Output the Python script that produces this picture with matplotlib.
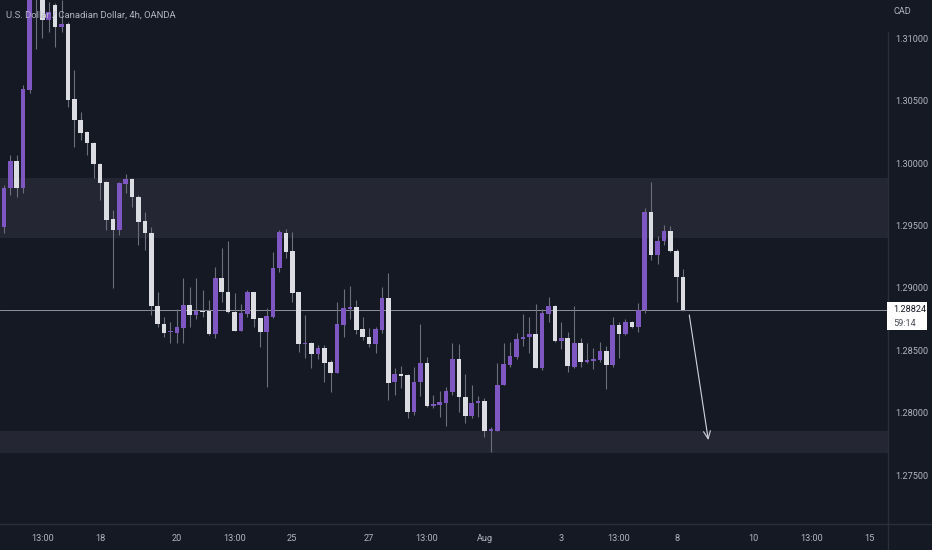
import matplotlib
matplotlib.use("Agg")
import matplotlib.pyplot as plt
from matplotlib import font_manager
from matplotlib.patches import Rectangle
from matplotlib.lines import Line2D

# ---------------- data (USD/CAD, 4h, OANDA) ----------------
opens = [1.29488, 1.29800, 1.30016, 1.29800, 1.30585, 1.31426, 1.31346, 1.31146, 1.31266, 1.31090,
         1.31114, 1.30513, 1.30345, 1.30249, 1.30161, 1.29992, 1.29848, 1.29552, 1.29464, 1.29832,
         1.29872, 1.29728, 1.29536, 1.29440, 1.28855, 1.28711, 1.28643, 1.28639, 1.28679, 1.28863,
         1.28783, 1.28815, 1.28815, 1.28631, 1.29079, 1.28967, 1.28807, 1.28655, 1.28791, 1.28967,
         1.28759, 1.28647, 1.28767, 1.29159, 1.29440, 1.29296, 1.28967, 1.28550, 1.28558, 1.28470,
         1.28518, 1.28406, 1.28318, 1.28703, 1.28831, 1.28847, 1.28671, 1.28607, 1.28550, 1.28663,
         1.28919, 1.28246, 1.28310, 1.28302, 1.28006, 1.28246, 1.28398, 1.28054, 1.28062, 1.28078,
         1.28166, 1.28430, 1.28126, 1.27974, 1.28078, 1.28094, 1.27854, 1.27854, 1.28222, 1.28382,
         1.28446, 1.28591, 1.28607, 1.28631, 1.28358, 1.28791, 1.28855, 1.28574, 1.28599, 1.28366,
         1.28558, 1.28406, 1.28414, 1.28422, 1.28494, 1.28382, 1.28703, 1.28631, 1.28727, 1.28687,
         1.28823, 1.29608, 1.29264, 1.29376, 1.29456, 1.29296, 1.29087]
highs = [1.29824, 1.30065, 1.30065, 1.30625, 1.31506, 1.31546, 1.31402, 1.31290, 1.31282, 1.31306,
         1.31130, 1.30745, 1.30409, 1.30255, 1.30169, 1.30000, 1.29852, 1.29624, 1.29848, 1.29912,
         1.29880, 1.29744, 1.29608, 1.29488, 1.28967, 1.28767, 1.28727, 1.28831, 1.29079, 1.29007,
         1.29079, 1.28983, 1.28903, 1.29167, 1.29320, 1.29376, 1.28959, 1.28871, 1.28983, 1.28970,
         1.28762, 1.28839, 1.29288, 1.29464, 1.29472, 1.29448, 1.28970, 1.28783, 1.28566, 1.28542,
         1.28542, 1.28422, 1.28887, 1.28991, 1.29015, 1.28903, 1.28767, 1.28679, 1.28687, 1.29007,
         1.29119, 1.28358, 1.28374, 1.28306, 1.28366, 1.28711, 1.28446, 1.28142, 1.28174, 1.28206,
         1.28558, 1.28550, 1.28310, 1.28222, 1.28134, 1.28118, 1.27886, 1.28398, 1.28558, 1.28566,
         1.28639, 1.28791, 1.28767, 1.28871, 1.28831, 1.28927, 1.28863, 1.28727, 1.28647, 1.28855,
         1.28599, 1.28558, 1.28518, 1.28566, 1.28534, 1.28767, 1.28727, 1.28751, 1.28730, 1.28879,
         1.29640, 1.29848, 1.29416, 1.29504, 1.29496, 1.29312, 1.29151]
lows = [1.29440, 1.29744, 1.29728, 1.29760, 1.30561, 1.30914, 1.31002, 1.31050, 1.30930, 1.31050,
        1.30449, 1.30129, 1.30185, 1.30065, 1.29880, 1.29704, 1.29464, 1.28999, 1.29424, 1.29760,
        1.29648, 1.29344, 1.29304, 1.28783, 1.28687, 1.28607, 1.28558, 1.28558, 1.28558, 1.28687,
        1.28751, 1.28767, 1.28623, 1.28599, 1.28887, 1.28799, 1.28650, 1.28650, 1.28767, 1.28687,
        1.28526, 1.28206, 1.28759, 1.29127, 1.29240, 1.28887, 1.28486, 1.28438, 1.28358, 1.28430,
        1.28246, 1.28166, 1.28314, 1.28607, 1.28751, 1.28631, 1.28582, 1.28526, 1.28478, 1.28639,
        1.28102, 1.28142, 1.28198, 1.27958, 1.27982, 1.28134, 1.28046, 1.28038, 1.27966, 1.27894,
        1.28142, 1.28006, 1.27918, 1.27958, 1.27966, 1.27806, 1.27685, 1.27850, 1.28218, 1.28366,
        1.28430, 1.28534, 1.28478, 1.28354, 1.28342, 1.28727, 1.28566, 1.28510, 1.28326, 1.28358,
        1.28366, 1.28398, 1.28350, 1.28406, 1.28190, 1.28366, 1.28438, 1.28623, 1.28679, 1.28647,
        1.28799, 1.29224, 1.29192, 1.29344, 1.29288, 1.28887, 1.28815]
closes = [1.29800, 1.30016, 1.29800, 1.30593, 1.31426, 1.31346, 1.31146, 1.31210, 1.31090, 1.31114,
          1.30505, 1.30345, 1.30241, 1.30161, 1.29992, 1.29840, 1.29544, 1.29464, 1.29840, 1.29872,
          1.29728, 1.29528, 1.29440, 1.28855, 1.28711, 1.28639, 1.28647, 1.28687, 1.28863, 1.28783,
          1.28815, 1.28807, 1.28631, 1.29079, 1.28967, 1.28807, 1.28655, 1.28799, 1.28967, 1.28751,
          1.28647, 1.28775, 1.29159, 1.29448, 1.29288, 1.28959, 1.28550, 1.28558, 1.28470, 1.28518,
          1.28398, 1.28318, 1.28711, 1.28839, 1.28847, 1.28663, 1.28607, 1.28550, 1.28671, 1.28919,
          1.28238, 1.28310, 1.28294, 1.28006, 1.28246, 1.28398, 1.28054, 1.28070, 1.28086, 1.28174,
          1.28430, 1.28126, 1.27974, 1.28078, 1.28094, 1.27854, 1.27866, 1.28222, 1.28390, 1.28454,
          1.28591, 1.28607, 1.28631, 1.28358, 1.28799, 1.28855, 1.28574, 1.28599, 1.28374, 1.28558,
          1.28406, 1.28422, 1.28430, 1.28494, 1.28382, 1.28703, 1.28631, 1.28727, 1.28687, 1.28823,
          1.29608, 1.29264, 1.29376, 1.29456, 1.29296, 1.29087, 1.28824]

last_price = 1.28824
countdown = "59:14"
title = "U.S. Dollar / Canadian Dollar, 4h, OANDA"
currency = "CAD"

x_tick_pos = [6, 15, 27, 36, 45, 57, 66, 75, 87, 96, 105, 117, 126, 135]
x_tick_labels = ["13:00", "18", "20", "13:00", "25", "27", "13:00", "Aug",
                 "3", "13:00", "8", "10", "13:00", "15"]
y_ticks = [1.27500, 1.28000, 1.28500, 1.29000, 1.29500, 1.30000, 1.30500, 1.31000]

zone_upper = (1.29400, 1.29880)
zone_lower = (1.27676, 1.27853)

arrow_start = (106.96, 1.28782)
arrow_end = (109.93, 1.27780)

# ---------------- style ----------------
BG = "#151924"
ZONE = "#242633"
UP = "#7e57c2"
DOWN = "#dcdde2"
WICK = "#6c6f7b"
TXT = "#b2b5be"
SEP = "#2a2e39"

names = {f.name for f in font_manager.fontManager.ttflist}
FONT = "Roboto" if "Roboto" in names else "DejaVu Sans"
plt.rcParams["font.family"] = [FONT, "DejaVu Sans"]
FS = 6.6

W, H = 932, 550
fig = plt.figure(figsize=(W / 100, H / 100), dpi=100, facecolor=BG)
ax = fig.add_axes([0, 26 / H, 888 / W, 524 / H])
ax.set_facecolor(BG)
ax.set_xlim(-0.6055, 137.97)
ax.set_ylim(1.271074, 1.313061)
for s in ax.spines.values():
    s.set_visible(False)

# zones
for lo, hi in (zone_upper, zone_lower):
    ax.axhspan(lo, hi, color=ZONE, lw=0, zorder=0)

# candles
n = len(opens)
min_h = 0.00009
for i in range(n):
    o, h, l, c = opens[i], highs[i], lows[i], closes[i]
    col = UP if c >= o else DOWN
    ax.vlines(i, l, h, color=WICK, lw=0.8, zorder=2)
    bottom = min(o, c)
    height = max(abs(c - o), min_h)
    ax.bar(i, height, width=0.72, bottom=bottom, color=col, lw=0, zorder=3)

# last price line
ax.axhline(last_price, color="#8f929c", lw=0.7, zorder=1)

# arrow
ax.annotate("", xy=arrow_end, xytext=arrow_start,
            arrowprops=dict(arrowstyle="->,head_length=0.55,head_width=0.25",
                            color="#d1d4dc", lw=0.8, shrinkA=0, shrinkB=0), zorder=4)

# axes ticks
ax.yaxis.tick_right()
ax.set_yticks(y_ticks, [f"{v:.5f}" for v in y_ticks])
ax.set_xticks(x_tick_pos, x_tick_labels)
ax.tick_params(axis="y", length=0, pad=5, labelsize=FS, labelcolor=TXT)
ax.tick_params(axis="x", length=0, pad=7, labelsize=FS, labelcolor=TXT)
for lab in ax.get_yticklabels():
    lab.set_horizontalalignment("left")

# separators
fig.add_artist(Line2D([888 / W, 888 / W], [0, 1 - 32 / H], color=SEP, lw=1))
fig.add_artist(Line2D([0, 1], [26 / H, 26 / H], color=SEP, lw=1))

# title & currency
fig.text(6 / W, 1 - 15 / H, title, color=TXT, fontsize=6.8, va="center", ha="left")
fig.text(894 / W, 1 - 12 / H, currency, color=TXT, fontsize=FS, va="center", ha="left")

# last price label
fig.add_artist(Rectangle((887 / W, 1 - 330 / H), 40 / W, 28 / H,
                         transform=fig.transFigure, facecolor="#ffffff",
                         edgecolor="none", zorder=5))
fig.text(893 / W, 1 - 310 / H, f"{last_price:.5f}", color="#131722",
         fontsize=FS, va="center", ha="left", zorder=6)
fig.text(893 / W, 1 - 323 / H, countdown, color="#4a4d57",
         fontsize=FS, va="center", ha="left", zorder=6)

fig.savefig("out.png", dpi=100, facecolor=BG)
